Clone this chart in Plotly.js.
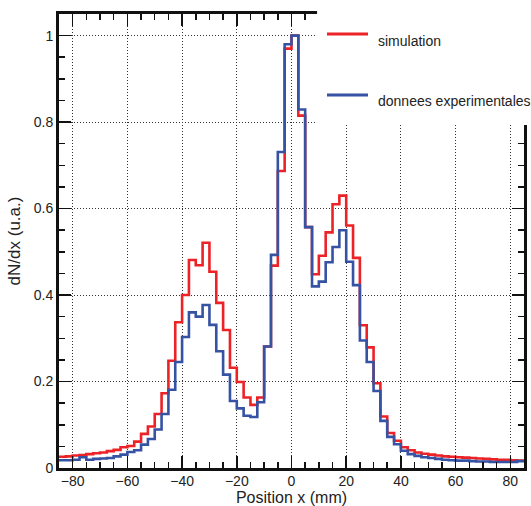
<!DOCTYPE html>
<html>
<head>
<meta charset="utf-8">
<script src="https://cdn.plot.ly/plotly-3.0.1.min.js"></script>
<style>html,body{margin:0;padding:0;background:#fff;}#chart{width:531px;height:506px;}</style>
</head>
<body>
<div id="chart"></div>
<script>
// Lower edges of the 2.5 mm bins
var binLowEdges = [-85, -82.5, -80, -77.5, -75, -72.5, -70, -67.5, -65, -62.5, -60, -57.5, -55, -52.5, -50, -47.5, -45, -42.5, -40, -37.5, -35, -32.5, -30, -27.5, -25, -22.5, -20, -17.5, -15, -12.5, -10, -7.5, -5, -2.5, 0, 2.5, 5, 7.5, 10, 12.5, 15, 17.5, 20, 22.5, 25, 27.5, 30, 32.5, 35, 37.5, 40, 42.5, 45, 47.5, 50, 52.5, 55, 57.5, 60, 62.5, 65, 67.5, 70, 72.5, 75, 77.5, 80, 82.5];
var lastUpperEdge = 85;

var simulation = [0.026, 0.027, 0.029, 0.030, 0.032, 0.034, 0.036, 0.039, 0.042, 0.048, 0.051, 0.061, 0.079, 0.096, 0.125, 0.173, 0.248, 0.337, 0.400, 0.481, 0.469, 0.521, 0.454, 0.382, 0.319, 0.232, 0.199, 0.163, 0.146, 0.163, 0.281, 0.468, 0.687, 0.970, 1.000, 0.815, 0.557, 0.448, 0.491, 0.545, 0.610, 0.630, 0.561, 0.486, 0.330, 0.279, 0.196, 0.119, 0.081, 0.063, 0.048, 0.041, 0.036, 0.033, 0.031, 0.029, 0.027, 0.026, 0.025, 0.024, 0.023, 0.022, 0.021, 0.020, 0.019, 0.019, 0.018, 0.017];

var experimental = [0.018, 0.018, 0.019, 0.025, 0.019, 0.021, 0.022, 0.023, 0.027, 0.031, 0.037, 0.041, 0.054, 0.067, 0.089, 0.125, 0.181, 0.245, 0.303, 0.360, 0.350, 0.377, 0.331, 0.270, 0.216, 0.155, 0.138, 0.121, 0.118, 0.152, 0.281, 0.493, 0.731, 0.980, 1.000, 0.829, 0.557, 0.420, 0.431, 0.476, 0.511, 0.550, 0.477, 0.423, 0.295, 0.245, 0.178, 0.109, 0.072, 0.055, 0.040, 0.032, 0.028, 0.025, 0.023, 0.021, 0.019, 0.018, 0.017, 0.017, 0.016, 0.015, 0.015, 0.014, 0.014, 0.014, 0.014, 0.016];

var seriesNames = ['simulation', 'donnees experimentales'];
var xTitle = 'Position x (mm)';
var yTitle = 'dN/dx (u.a.)';

var RED = '#ec2227';
var BLUE = '#3652a3';
var FONT = 'Liberation Sans, Arial, Helvetica, sans-serif';

function stepTrace(vals, color, name) {
  return {
    type: 'scatter', mode: 'lines', name: name,
    x: binLowEdges.concat([lastUpperEdge]),
    y: vals.concat([vals[vals.length - 1]]),
    line: {shape: 'hv', color: color, width: 2.6},
    showlegend: false, hoverinfo: 'skip'
  };
}

var data = [stepTrace(simulation, RED, seriesNames[0]), stepTrace(experimental, BLUE, seriesNames[1])];

var axisCommon = {
  showline: true, linewidth: 3, linecolor: '#111', mirror: 'ticks',
  ticks: 'inside', ticklen: 12, tickwidth: 1.5, tickcolor: '#111',
  showgrid: true, gridcolor: '#333', gridwidth: 1, griddash: '1px,2px',
  zeroline: false,
  tickfont: {family: FONT, size: 14, color: '#222'}
};

var layout = {
  width: 531, height: 506,
  margin: {l: 59, r: 7, t: 14, b: 38, pad: 0},
  paper_bgcolor: '#fff', plot_bgcolor: '#fff',
  font: {family: FONT, color: '#222'},
  xaxis: Object.assign({}, axisCommon, {
    range: [-85, 85], tick0: 0, dtick: 20,
    ticklabelstandoff: -2,
    minor: {dtick: 5, ticklen: 6, ticks: 'inside', tickwidth: 1.5, tickcolor: '#111', showgrid: false},
    title: {text: xTitle, font: {family: FONT, size: 16, color: '#222'}, standoff: 9}
  }),
  yaxis: Object.assign({}, axisCommon, {
    range: [0, 1.05], tick0: 0, dtick: 0.2,
    minor: {dtick: 0.05, ticklen: 6, ticks: 'inside', tickwidth: 1.5, tickcolor: '#111', showgrid: false},
    title: {text: yTitle, font: {family: FONT, size: 17, color: '#222'}, standoff: 9}
  }),
  shapes: [
    {type: 'rect', xref: 'paper', yref: 'paper', x0: 0.555, x1: 1.06, y0: 0.7555, y1: 1.05,
     fillcolor: '#fff', line: {width: 0}, layer: 'above'},
    {type: 'line', xref: 'paper', yref: 'paper', x0: 0.5763, x1: 0.6645, y0: 0.956, y1: 0.956,
     line: {color: RED, width: 3}, layer: 'above'},
    {type: 'line', xref: 'paper', yref: 'paper', x0: 0.5763, x1: 0.6645, y0: 0.8216, y1: 0.8216,
     line: {color: BLUE, width: 3}, layer: 'above'}
  ],
  annotations: [
    {xref: 'paper', yref: 'paper', x: 0.6817, y: 0.94, xanchor: 'left', yanchor: 'middle',
     text: seriesNames[0], showarrow: false, font: {family: FONT, size: 14, color: '#222'}},
    {xref: 'paper', yref: 'paper', x: 0.6817, y: 0.808, xanchor: 'left', yanchor: 'middle',
     text: seriesNames[1], showarrow: false, font: {family: FONT, size: 14, color: '#222'}}
  ]
};

Plotly.newPlot('chart', data, layout, {displayModeBar: false, staticPlot: true});
</script>
</body>
</html>
